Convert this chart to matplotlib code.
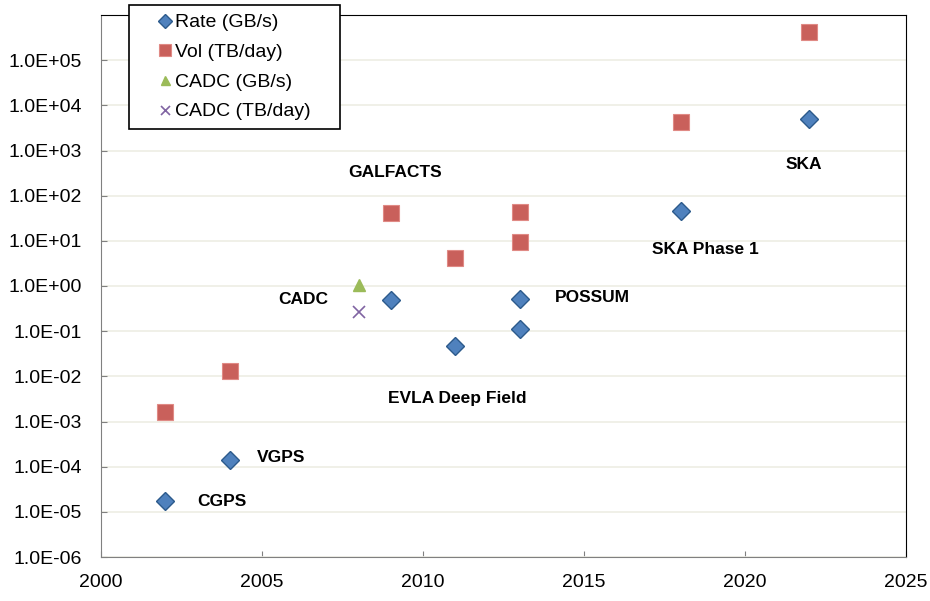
import numpy as np
import matplotlib
matplotlib.use("Agg")
from matplotlib import pyplot as plt
from matplotlib.ticker import FixedLocator, FuncFormatter

plt.rcParams['font.family'] = ['Liberation Sans', 'DejaVu Sans']

# survey data
rate_year = [2002, 2004, 2009, 2011, 2013, 2013, 2018, 2022]
rate_gbs = [1.7e-5, 1.4e-4, 0.49, 0.047, 0.52, 0.11, 46, 4.9e3]
vol_year = [2002, 2004, 2009, 2011, 2013, 2013, 2018, 2022]
vol_tbday = [1.6e-3, 0.013, 42, 4.2, 44, 9.5, 4.2e3, 4.2e5]
cadc_year = [2008]
cadc_gbs = [1.05]
cadc_tbday = [0.26]

labels = ["CGPS", "VGPS", "CADC", "GALFACTS", "EVLA Deep Field", "POSSUM", "SKA Phase 1", "SKA"]
label_x = [2003.0, 2004.85, 2005.5, 2007.67, 2008.9, 2014.1, 2017.1, 2021.25]
label_y = [1.7e-5, 1.6e-4, 0.51, 320, 3.2e-3, 0.56, 6.3, 490]

fig = plt.figure(figsize=(9.3, 6.01), dpi=100)
ax = fig.add_axes([101/930, 44/601, 805/930, 542/601])

ax.plot(rate_year, rate_gbs, 'D', ms=9.5, mfc='#4F81BD', mec='#2C5A8C', mew=1.0,
        ls='none', label='Rate (GB/s)', zorder=3)
ax.plot(vol_year, vol_tbday, 's', ms=11.5, mfc='#C9605B', mec='#E08A85', mew=0.8,
        ls='none', label='Vol (TB/day)', zorder=3)
ax.plot(cadc_year, cadc_gbs, '^', ms=9, mfc='#9BBB59', mec='#9BBB59',
        ls='none', label='CADC (GB/s)', zorder=3)
ax.plot(cadc_year, cadc_tbday, 'x', ms=9, mec='#8064A2', mew=1.2,
        ls='none', label='CADC (TB/day)', zorder=3)

for t, x, y in zip(labels, label_x, label_y):
    ax.text(x, y, t, fontsize=12.5, fontweight='bold', ha='left', va='center')

ax.set_yscale('log')
ax.set_xlim(2000, 2025)
ax.set_ylim(1e-6, 1e6)
yt = [10.0 ** k for k in range(-6, 6)]
ax.yaxis.set_major_locator(FixedLocator(yt))
ax.yaxis.set_minor_locator(FixedLocator([]))
ax.yaxis.set_major_formatter(FuncFormatter(lambda v, p: "%.1E" % v))
ax.set_xticks(range(2000, 2026, 5))

ax.grid(axis='y', color='#EDEDE4', lw=1.2, zorder=0)
ax.set_axisbelow(True)
ax.tick_params(axis='both', direction='in', labelsize=14, colors='#808080',
               labelcolor='black', length=4)
ax.tick_params(axis='y', pad=14)
ax.tick_params(axis='x', pad=12)
for s in ['left', 'bottom']:
    ax.spines[s].set_color('#808080')
for s in ['top', 'right']:
    ax.spines[s].set_color('black')

leg = fig.legend(loc='upper left', bbox_to_anchor=(129/930, 1 - 128/601, 211/930, 123/601),
                 mode='expand', fontsize=14, frameon=True, fancybox=False,
                 borderaxespad=0, handlelength=2.78, handletextpad=-0.88,
                 markerscale=0.72, labelspacing=0.62, borderpad=0.45, framealpha=1)
leg.get_frame().set_edgecolor('black')
leg.get_frame().set_linewidth(1.2)

fig.savefig("out.png", dpi=100)
